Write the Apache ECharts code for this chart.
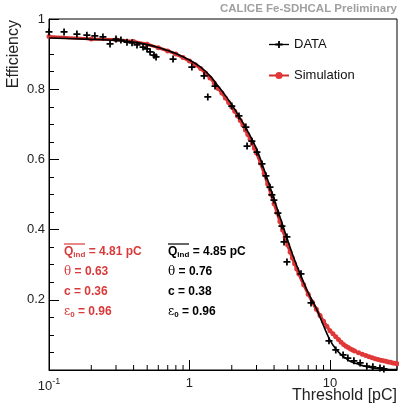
<!DOCTYPE html>
<html><head><meta charset="utf-8">
<script src="https://cdn.jsdelivr.net/npm/echarts@6/dist/echarts.min.js"></script>
<style>html,body{margin:0;padding:0;background:#fff}#c{width:399px;height:404px}</style>
</head><body><div id="c"></div>
<script>
// DATA points (threshold pC, efficiency)
const dataThreshold = [0.1,0.128,0.158,0.186,0.212,0.242,0.272,0.300,0.325,0.359,0.390,0.423,0.467,0.499,0.524,0.559,0.578,0.764,1.04,1.27,1.35,1.52,2.00,2.25,2.52,2.57,2.78,3.02,3.28,3.50,3.74,3.86,3.99,4.26,4.55,4.71,4.94,4.94,6.22,7.33,9.84,11.0,12.4,13.4,14.8,16.4,18.3,20.2,22.7,24.2];
const dataEff = [0.963,0.963,0.957,0.954,0.952,0.949,0.929,0.943,0.940,0.934,0.932,0.926,0.920,0.915,0.906,0.897,0.892,0.886,0.863,0.838,0.778,0.809,0.752,0.724,0.692,0.638,0.652,0.621,0.587,0.553,0.521,0.499,0.484,0.447,0.410,0.365,0.379,0.308,0.274,0.191,0.083,0.057,0.043,0.034,0.026,0.020,0.011,0.009,0.006,0.003];
// Simulation points
const simThreshold = [0.1,0.2,0.3,0.4,0.5,0.6,0.7,0.8,0.9,1.0,1.1,1.2,1.3,1.4,1.5,1.6,1.7,1.8,1.9,2.0,2.1,2.2,2.3,2.4,2.5,2.6,2.7,2.8,2.9,3.0,3.2,3.4,3.6,3.8,4.0,4.2,4.4,4.6,4.8,5.0,5.2,5.4,5.6,5.8,6.0,6.5,7.0,7.5,8.0,8.5,9.0,9.5,10,10.5,11,11.5,12,12.5,13,13.5,14,14.5,15,16,17,18,19,20,21,22,23,24,25,26,27,28,29,30];
const simEff = [0.950,0.943,0.941,0.936,0.928,0.918,0.909,0.900,0.890,0.880,0.870,0.859,0.846,0.832,0.818,0.802,0.789,0.775,0.762,0.749,0.737,0.724,0.711,0.698,0.684,0.671,0.658,0.645,0.632,0.618,0.590,0.560,0.530,0.501,0.474,0.449,0.423,0.399,0.378,0.356,0.336,0.319,0.303,0.288,0.274,0.243,0.216,0.193,0.173,0.155,0.139,0.125,0.112,0.103,0.095,0.087,0.079,0.073,0.068,0.064,0.060,0.057,0.054,0.049,0.045,0.041,0.038,0.035,0.032,0.030,0.028,0.026,0.025,0.023,0.022,0.020,0.019,0.018];
// Fit to DATA (black curve)
const fitThreshold = [0.1,0.2,0.3,0.4,0.5,0.6,0.7,0.8,1.0,1.2,1.4,1.6,1.8,2.0,2.5,3.0,3.5,4.0,4.5,5.0,5.5,6.0,7.0,8.0,9.0,10,11,12,13,14,16,18,20,22,25,30];
const dataFitEff = [0.946,0.942,0.939,0.934,0.927,0.919,0.910,0.902,0.883,0.863,0.838,0.809,0.782,0.756,0.692,0.630,0.556,0.487,0.425,0.370,0.322,0.283,0.220,0.175,0.126,0.085,0.060,0.044,0.033,0.024,0.016,0.010,0.006,0.004,0.002,0.001];
// Axis ticks / labels
const xMinorTicks = [0.2,0.3,0.4,0.5,0.6,0.7,0.8,0.9,2,3,4,5,6,7,8,9,20,30];
const xLabelValues = [0.1, 1, 10];
const xLabelTexts = ['{a|10}{b|-1}', '1', '10'];
const yLabelValues = [0.2, 0.4, 0.6, 0.8, 1];
const yLabelTexts = ['0.2', '0.4', '0.6', '0.8', '1'];
const redText = ['= 4.81 pC', '= 0.63', '= 0.36', '= 0.96'];
const blackText = ['= 4.85 pC', '= 0.76', '= 0.38', '= 0.96'];

const FONT = 'Liberation Sans, Arial, Helvetica, sans-serif';
const RED = '#d42c2c';
const RED_TXT = '#d93a3a';
const zip = (a, b) => a.map((v, i) => [v, b[i]]);

function paramBlock(x, color, vals) {
  const rich = {
    t: {fontFamily: FONT, fontWeight: 'bold', fontSize: 12, fill: color, color: color},
    s: {fontFamily: FONT, fontWeight: 'bold', fontSize: 8, fill: color, color: color, verticalAlign: 'bottom', padding: [6, 0, 0, 0]},
    g: {fontFamily: 'DejaVu Serif, Liberation Serif, serif', fontSize: 12, fill: color, color: color}
  };
  const mk = (y, text) => ({type: 'text', x: x, y: y, style: {text: text, rich: rich, verticalAlign: 'middle', align: 'left', fill: color}, silent: true});
  return [
    mk(252, '{t|Q}{s|ind}{t| ' + vals[0] + '}'),
    {type: 'line', shape: {x1: x, y1: 244, x2: x + 21, y2: 244}, style: {stroke: color, lineWidth: 1.2}, silent: true},
    mk(272, '{g|θ}{t| ' + vals[1] + '}'),
    mk(292, '{t|c ' + vals[2] + '}'),
    mk(312, '{g|ε}{s|0}{t| ' + vals[3] + '}')
  ];
}

const chart = echarts.init(document.getElementById('c'), null, {renderer: 'canvas'});
chart.setOption({
  animation: false,
  backgroundColor: '#fff',
  grid: {left: 49, right: 2, top: 19, bottom: 34, show: true, borderColor: '#000', borderWidth: 1, backgroundColor: 'transparent'},
  xAxis: {
    type: 'log', logBase: 10, min: 0.1, max: 30,
    axisLine: {lineStyle: {color: '#000', width: 1}},
    axisTick: {inside: true, length: 10, lineStyle: {color: '#000'}},
    splitLine: {show: false},
    axisLabel: {
      margin: 7, color: '#222', fontFamily: FONT, fontSize: 13, showMaxLabel: false,
      formatter: function (v) {
        for (let i = 0; i < xLabelValues.length; i++) {
          if (Math.abs(Math.log10(v) - Math.log10(xLabelValues[i])) < 1e-6) return xLabelTexts[i];
        }
        return '';
      },
      rich: {
        a: {fontFamily: FONT, fontSize: 13, color: '#222', verticalAlign: 'bottom', lineHeight: 16},
        b: {fontFamily: FONT, fontSize: 9, color: '#222', verticalAlign: 'top', lineHeight: 16}
      }
    }
  },
  yAxis: {
    type: 'value', min: 0, max: 1, interval: 0.2,
    axisLine: {show: true, lineStyle: {color: '#000', width: 1}},
    axisTick: {inside: true, length: 10, lineStyle: {color: '#000'}},
    minorTick: {show: true, splitNumber: 4, length: 5, lineStyle: {color: '#000'}},
    splitLine: {show: false},
    axisLabel: {
      margin: 4, color: '#222', fontFamily: FONT, fontSize: 13,
      formatter: function (v) {
        for (let i = 0; i < yLabelValues.length; i++) if (Math.abs(v - yLabelValues[i]) < 1e-6) return yLabelTexts[i];
        return '';
      }
    }
  },
  legend: {
    left: 268, top: 38, orient: 'vertical', itemGap: 18, itemWidth: 20, itemHeight: 9, padding: 0,
    textStyle: {fontFamily: FONT, fontSize: 13, color: '#111'},
    data: [{name: 'DATA', lineStyle: {width: 1.3, color: '#000'}}, {name: 'Simulation', lineStyle: {width: 2}}]
  },
  series: [
    {
      type: 'custom', name: 'minor', silent: true, z: 3,
      renderItem: function (params, api) {
        const p = api.coord([api.value(0), 0]);
        return {type: 'line', shape: {x1: p[0], y1: p[1], x2: p[0], y2: p[1] - 5}, style: {stroke: '#000', lineWidth: 1}};
      },
      data: xMinorTicks.map(v => [v, 0])
    },
    {
      type: 'line', name: 'Simulation', data: zip(simThreshold, simEff), smooth: 0.3, z: 4,
      symbol: 'circle', symbolSize: 5, showSymbol: true,
      itemStyle: {color: '#e03838'},
      lineStyle: {color: RED, width: 3}
    },
    {
      type: 'line', name: 'DATA fit', data: zip(fitThreshold, dataFitEff), smooth: 0.3, z: 5,
      showSymbol: false, symbol: 'none', silent: true,
      lineStyle: {color: '#000', width: 1.6}
    },
    {
      type: 'line', name: 'DATA', data: zip(dataThreshold, dataEff), z: 6,
      symbol: 'path://M0,3L8,3L8,5L0,5Z M3,0L5,0L5,8L3,8Z', symbolSize: 7,
      itemStyle: {color: '#000'},
      lineStyle: {width: 0}
    }
  ],
  graphic: [
    {type: 'text', right: 2, top: 3, style: {text: 'CALICE Fe-SDHCAL Preliminary', fontFamily: FONT, fontWeight: 'bold', fontSize: 11.5, fill: '#a0a0a0'}, silent: true},
    {type: 'text', x: 14, y: 20, rotation: Math.PI / 2, style: {text: 'Efficiency', fontFamily: FONT, fontSize: 16, fill: '#222', align: 'right', verticalAlign: 'middle'}, silent: true},
    {type: 'text', x: 397, y: 396, style: {text: 'Threshold [pC]', fontFamily: FONT, fontSize: 16, fill: '#222', align: 'right', verticalAlign: 'middle'}, silent: true}
  ].concat(paramBlock(64, RED_TXT, redText)).concat(paramBlock(168, '#000', blackText))
});
</script>
</body></html>
